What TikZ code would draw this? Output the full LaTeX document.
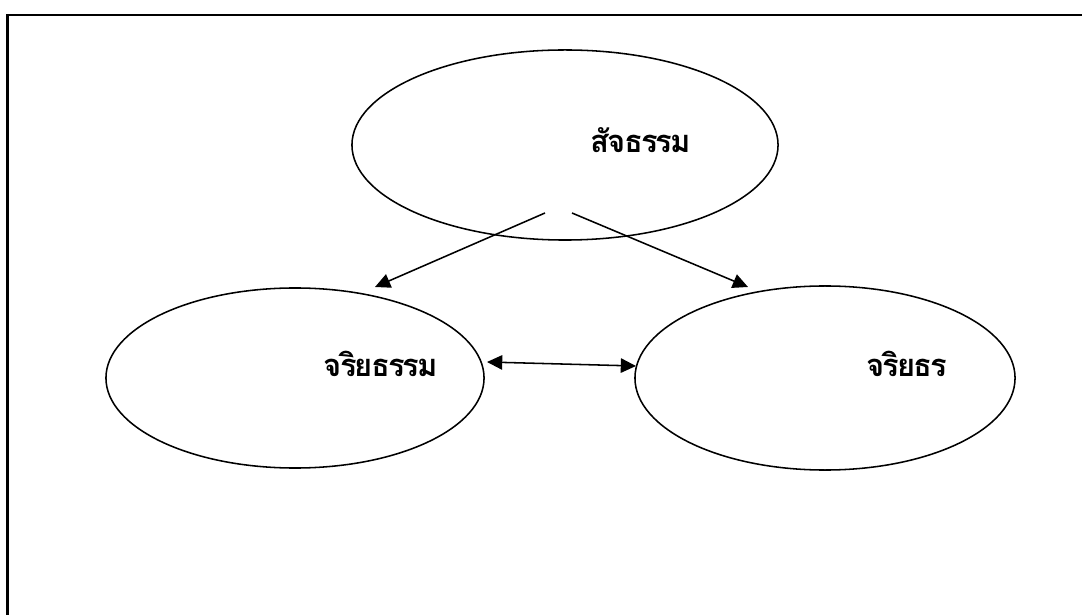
\documentclass[tikz,border=0pt]{standalone}
\usepackage{fontspec}
\usepackage{tikz}
\usetikzlibrary{shapes.geometric,arrows.meta}
\newfontfamily\thaifont[Script=Thai,LetterSpace=-6]{Loma}

\begin{document}
\begin{tikzpicture}[x=0.025cm, y=-0.025cm,
  every node/.style={outer sep=0pt, inner sep=0pt},
  oval/.style={draw, ellipse, line width=1.1pt},
  word/.style={anchor=base, font=\thaifont\bfseries\fontsize{22}{26}\selectfont},
  link/.style={line width=1.1pt, -{Triangle[length=3.8mm,width=3.6mm]}}]
\useasboundingbox (0,0) rectangle (1082,615);
\draw[line width=1.8pt] (1082,15) -- (7.5,15) -- (7.5,615);

\node[oval, minimum width=10.65cm, minimum height=4.75cm] (truth) at (565,145) {};
\node[oval, minimum width=9.45cm, minimum height=4.5cm] (ethics) at (295,378) {};
\node[oval, minimum width=9.5cm, minimum height=4.6cm] (conduct) at (825,378) {};

\node[word] (truthtext) at (641,153) {สัจธรรม};
\node[word] (ethicstext) at (381,377) {จริยธรรม};
\node[word] (conducttext) at (907,377) {จริยธร};

\coordinate (startl) at (545,213);
\coordinate (startr) at (572,213);
\coordinate (endl) at (375,287);
\coordinate (endr) at (748,287);
\coordinate (bothl) at (487,362);
\coordinate (bothr) at (636,366);

\draw[link] (startl) -- (endl);
\draw[link] (startr) -- (endr);
\draw[link, {Triangle[length=3.8mm,width=3.6mm]}-{Triangle[length=3.8mm,width=3.6mm]}] (bothl) -- (bothr);
\end{tikzpicture}
\end{document}
